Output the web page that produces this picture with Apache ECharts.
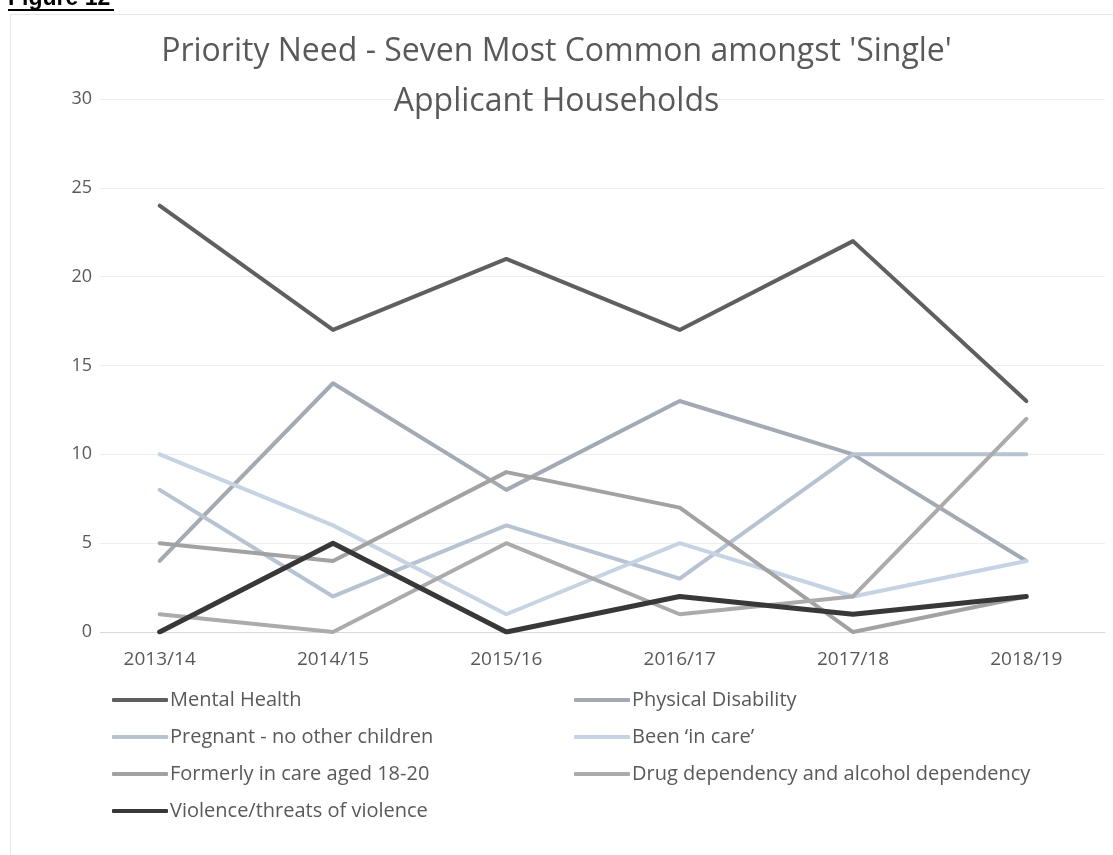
<!DOCTYPE html>
<html>
<head>
<meta charset="utf-8">
<script src="https://cdn.jsdelivr.net/npm/echarts@6/dist/echarts.min.js"></script>
<style>
  html, body { margin: 0; padding: 0; background: #ffffff; }
  #chart { width: 1113px; height: 855px; }
</style>
</head>
<body>
<div id="chart"></div>
<script>
// Financial years on the category axis
const years = ['2013/14', '2014/15', '2015/16', '2016/17', '2017/18', '2018/19'];

// Number of 'single' applicant households by priority need
const mentalHealth = [24, 17, 21, 17, 22, 13];
const physicalDisability = [4, 14, 8, 13, 10, 4];
const pregnantNoChildren = [8, 2, 6, 3, 10, 10];
const beenInCare = [10, 6, 1, 5, 2, 4];
const formerlyInCare = [5, 4, 9, 7, 0, 2];
const drugAlcohol = [1, 0, 5, 1, 2, 12];
const violence = [0, 5, 0, 2, 1, 2];

const yTicks = [0, 5, 10, 15, 20, 25, 30];

const FONT = '"Open Sans", "Liberation Sans", sans-serif';
const TEXT = '#595959';

function line(name, data, color, width) {
  return {
    name: name,
    type: 'line',
    xAxisIndex: 0,
    yAxisIndex: 0,
    data: data,
    symbol: 'none',
    smooth: false,
    lineStyle: { color: color, width: width, cap: 'round', join: 'round' },
    itemStyle: { color: color },
    emphasis: { disabled: true }
  };
}

const legendText = { fontFamily: FONT, fontSize: 20, lineHeight: 20, color: TEXT, padding: [0, 0, 0, -3] };

const chart = echarts.init(document.getElementById('chart'), null, { renderer: 'canvas' });

chart.setOption({
  backgroundColor: '#ffffff',
  animation: false,
  textStyle: { fontFamily: FONT },
  title: {
    text: "Priority Need - Seven Most Common amongst 'Single'\nApplicant Households",
    left: 'center',
    top: 22,
    textStyle: { fontFamily: FONT, fontSize: 32, fontWeight: 'normal', color: TEXT, lineHeight: 50 }
  },
  graphic: [
    { type: 'text', left: 8, top: -13, style: { text: 'Figure 12', font: 'bold 23px "Liberation Sans", Arial, sans-serif', fill: '#000000' } },
    { type: 'rect', left: 8, top: 9, shape: { width: 106, height: 2 }, style: { fill: '#000000' } },
    { type: 'rect', left: 8, top: 12, shape: { width: 1200, height: 900 }, style: { fill: 'none', stroke: '#e6e6e6', lineWidth: 1 } }
  ],
  legend: [
    {
      orient: 'vertical',
      left: 112,
      top: 690,
      padding: 0,
      itemGap: 17,
      itemWidth: 56,
      itemHeight: 4,
      icon: 'roundRect',
      textStyle: legendText,
      data: ['Mental Health', 'Pregnant - no other children', 'Formerly in care aged 18-20', 'Violence/threats of violence']
    },
    {
      orient: 'vertical',
      left: 574,
      top: 690,
      padding: 0,
      itemGap: 17,
      itemWidth: 56,
      itemHeight: 4,
      icon: 'roundRect',
      textStyle: legendText,
      data: ['Physical Disability', "Been \u2018in care\u2019", 'Drug dependency and alcohol dependency']
    }
  ],
  // grid 0 holds the series; grid 1 carries the value labels and gridlines
  grid: [
    { left: 73, width: 1044, top: 99, bottom: 223, containLabel: false },
    { left: 100, right: 8, top: 99, bottom: 223, containLabel: false }
  ],
  xAxis: [
    {
      type: 'category',
      gridIndex: 0,
      data: years,
      boundaryGap: true,
      axisLine: { show: false },
      axisTick: { show: false },
      axisLabel: { fontFamily: FONT, fontSize: 19, color: TEXT, margin: 18 }
    },
    {
      type: 'value',
      gridIndex: 1,
      min: 0,
      max: 1,
      axisLine: { show: true, lineStyle: { color: '#d9d9d9', width: 1 } },
      axisTick: { show: false },
      axisLabel: { show: false },
      splitLine: { show: false }
    }
  ],
  yAxis: [
    {
      type: 'value',
      gridIndex: 0,
      min: yTicks[0],
      max: yTicks[yTicks.length - 1],
      interval: yTicks[1] - yTicks[0],
      show: false,
      splitLine: { show: false }
    },
    {
      type: 'value',
      gridIndex: 1,
      min: yTicks[0],
      max: yTicks[yTicks.length - 1],
      interval: yTicks[1] - yTicks[0],
      axisLine: { show: false },
      axisTick: { show: false },
      axisLabel: { fontFamily: FONT, fontSize: 18, color: TEXT, margin: 8 },
      splitLine: { lineStyle: { color: '#eceef1', width: 1 } }
    }
  ],
  series: [
    line('Physical Disability', physicalDisability, '#a3aab3', 4),
    line('Pregnant - no other children', pregnantNoChildren, '#b7c3d1', 4),
    line("Been \u2018in care\u2019", beenInCare, '#c6d3e3', 4),
    line('Formerly in care aged 18-20', formerlyInCare, '#a2a2a2', 4),
    line('Drug dependency and alcohol dependency', drugAlcohol, '#ababab', 4),
    line('Mental Health', mentalHealth, '#5f5f5f', 4),
    line('Violence/threats of violence', violence, '#383838', 5)
  ]
});
</script>
</body>
</html>
